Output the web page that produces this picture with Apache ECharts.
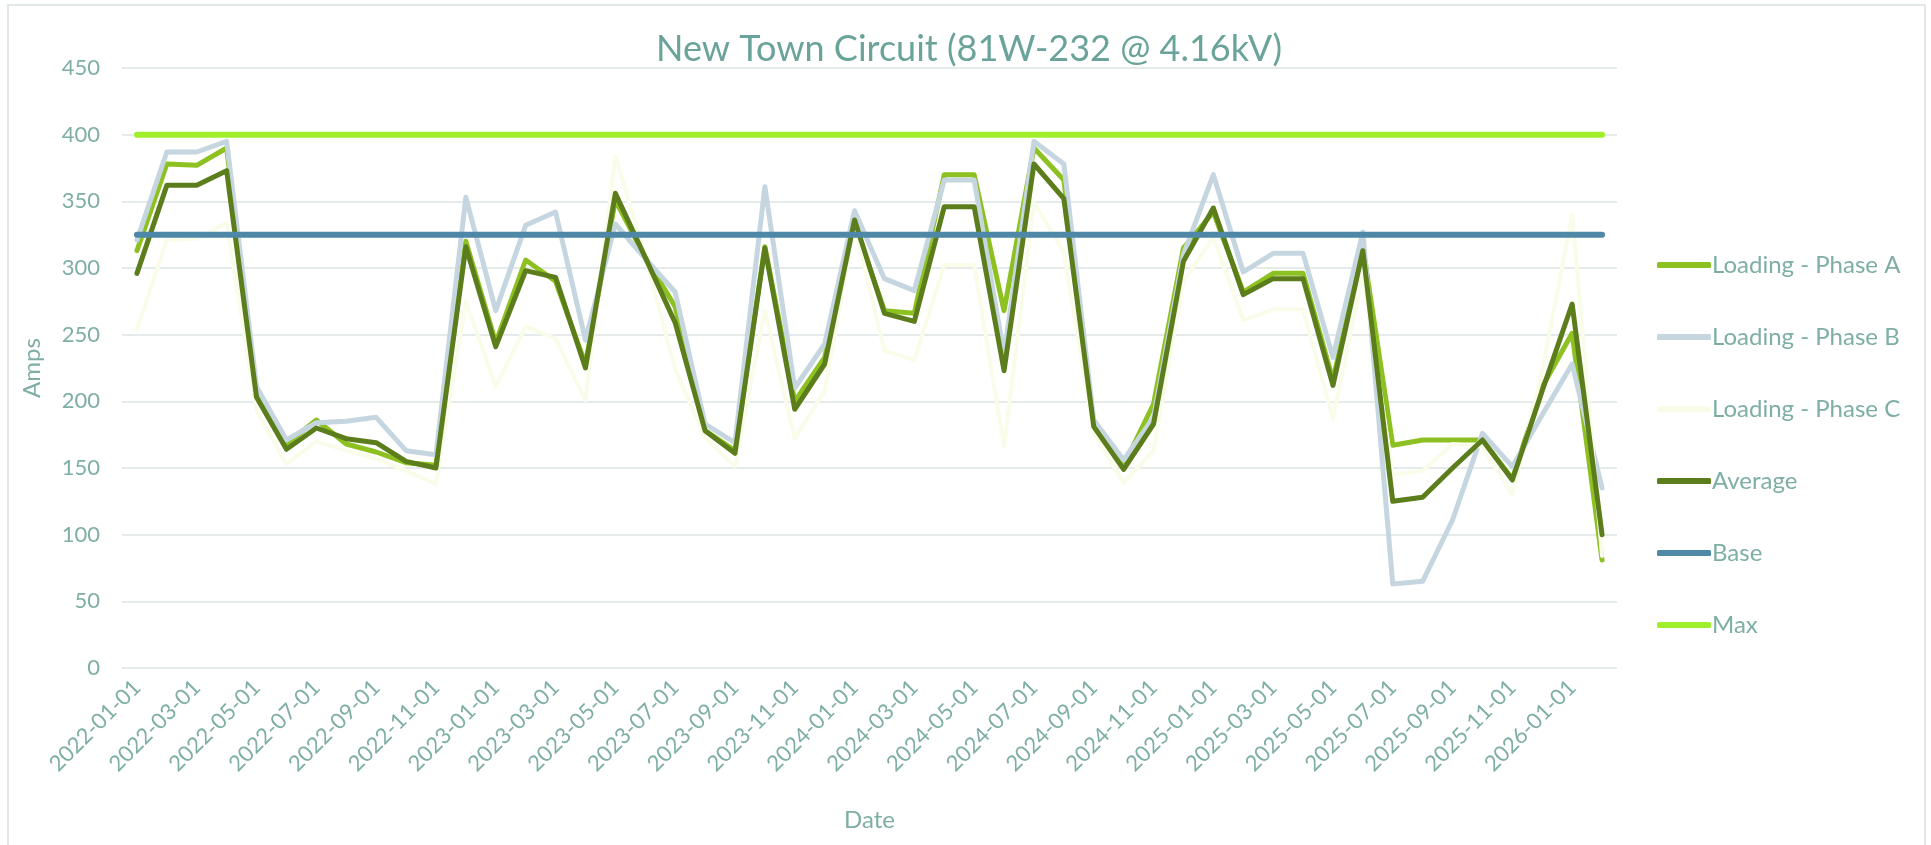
<!DOCTYPE html>
<html>
<head>
<meta charset="utf-8">
<title>New Town Circuit</title>
<script src="https://cdn.jsdelivr.net/npm/echarts@6/dist/echarts.min.js"></script>
<style>
  html, body { margin: 0; padding: 0; background: #fff; }
  #chart { width: 1931px; height: 845px; }
</style>
</head>
<body>
<div id="chart"></div>
<script>
// monthly readings, 2022-01 .. 2026-02
var dates = [
  '2022-01-01','2022-02-01','2022-03-01','2022-04-01','2022-05-01','2022-06-01',
  '2022-07-01','2022-08-01','2022-09-01','2022-10-01','2022-11-01','2022-12-01',
  '2023-01-01','2023-02-01','2023-03-01','2023-04-01','2023-05-01','2023-06-01',
  '2023-07-01','2023-08-01','2023-09-01','2023-10-01','2023-11-01','2023-12-01',
  '2024-01-01','2024-02-01','2024-03-01','2024-04-01','2024-05-01','2024-06-01',
  '2024-07-01','2024-08-01','2024-09-01','2024-10-01','2024-11-01','2024-12-01',
  '2025-01-01','2025-02-01','2025-03-01','2025-04-01','2025-05-01','2025-06-01',
  '2025-07-01','2025-08-01','2025-09-01','2025-10-01','2025-11-01','2025-12-01',
  '2026-01-01','2026-02-01'
];

var phaseA = [313,378,377,390,205,168,186,168,162,154,152,320,244,306,290,228,351,308,271,178,
  163,316,200,233,333,268,266,370,370,268,390,366,181,152,198,315,342,282,296,296,
  216,316,167,171,171,171,142,211,251,81];

var phaseB = [321,387,387,395,211,171,184,185,188,163,160,353,268,332,342,246,333,307,282,183,
  169,361,210,243,343,292,283,366,366,235,395,378,186,156,188,310,370,297,311,311,
  233,327,63,65,111,176,151,190,228,135];

var phaseC = [254,321,322,334,193,153,170,163,157,148,138,275,211,256,247,201,384,309,224,173,
  151,268,172,208,332,238,231,302,302,166,349,312,176,139,163,290,323,261,269,269,
  187,296,145,148,168,166,130,223,340,84];

var average = [296,362,362,373,203,164,180,172,169,155,150,316,241,298,293,225,356,308,259,178,
  161,315,194,228,336,266,260,346,346,223,378,352,181,149,183,305,345,280,292,292,
  212,313,125,128,150,171,141,208,273,100];

// circuit limits
var baseLimit = 325;
var maxLimit = 400;

var yTicks = { min: 0, max: 450, step: 50 };

var labelColor = '#7eaea5';
var font = 'Lato, "Open Sans", sans-serif';

function lineSeries(name, data, color, width) {
  return {
    name: name,
    type: 'line',
    data: data,
    showSymbol: false,
    symbol: 'none',
    color: color,
    lineStyle: { color: color, width: width, cap: 'round', join: 'round' },
    emphasis: { disabled: true }
  };
}

var chart = echarts.init(document.getElementById('chart'));

chart.setOption({
  backgroundColor: '#ffffff',
  animation: false,
  textStyle: { fontFamily: font },
  title: {
    text: 'New Town Circuit (81W-232 @ 4.16kV)',
    left: 651,
    top: 26,
    textStyle: { color: '#6aa39a', fontSize: 36, fontWeight: 'normal', fontFamily: font }
  },
  graphic: [{
    type: 'rect',
    shape: { x: 8, y: 5, width: 1917, height: 850 },
    style: { fill: 'none', stroke: '#e1e8e8', lineWidth: 2 },
    silent: true
  }],
  legend: {
    orient: 'vertical',
    left: 1652,
    top: 248,
    itemWidth: 54,
    itemHeight: 6,
    itemGap: 48,
    icon: 'roundRect',
    textStyle: { color: labelColor, fontSize: 24, fontFamily: font, lineHeight: 24, padding: [0, 0, 0, -4] },
    data: ['Loading - Phase A', 'Loading - Phase B', 'Loading - Phase C', 'Average', 'Base', 'Max']
  },
  grid: { left: 122, right: 314, top: 68, bottom: 177, containLabel: false },
  xAxis: {
    type: 'category',
    data: dates,
    boundaryGap: true,
    name: 'Date',
    nameLocation: 'middle',
    nameGap: 140,
    nameTextStyle: { color: labelColor, fontSize: 24, fontFamily: font },
    axisLine: { show: false },
    axisTick: { show: false },
    axisLabel: {
      interval: 1,
      rotate: 45,
      margin: 16,
      color: labelColor,
      fontSize: 22,
      fontFamily: font
    },
    splitLine: { show: false }
  },
  yAxis: {
    type: 'value',
    min: yTicks.min,
    max: yTicks.max,
    interval: yTicks.step,
    name: 'Amps',
    nameLocation: 'middle',
    nameGap: 78,
    nameTextStyle: { color: labelColor, fontSize: 24, fontFamily: font },
    axisLine: { show: false },
    axisTick: { show: false },
    axisLabel: { color: labelColor, fontSize: 22, margin: 22, fontFamily: font },
    splitLine: { lineStyle: { color: '#dde3e3', width: 1.5 } }
  },
  series: [
    lineSeries('Loading - Phase A', phaseA, '#8dc021', 5),
    lineSeries('Loading - Phase B', phaseB, '#c6d6e1', 5),
    lineSeries('Loading - Phase C', phaseC, '#fafcea', 4),
    lineSeries('Average', average, '#5c7d1b', 5),
    lineSeries('Base', dates.map(function () { return baseLimit; }), '#4f87a7', 6),
    lineSeries('Max', dates.map(function () { return maxLimit; }), '#9ff02a', 6)
  ]
});
</script>
</body>
</html>
